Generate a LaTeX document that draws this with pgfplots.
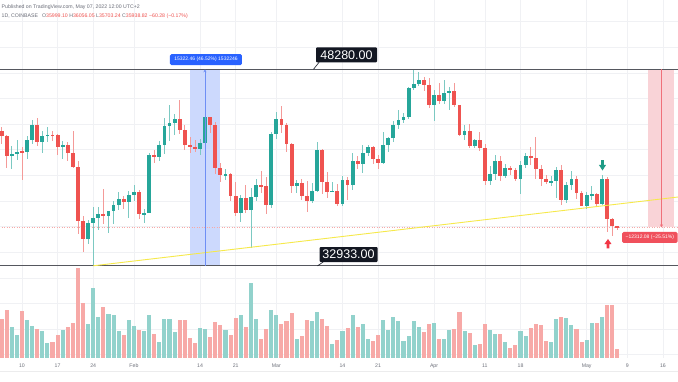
\documentclass[border=0pt]{standalone}
\usepackage{pgfplots}
\pgfplotsset{compat=1.18}
\usepackage{pgfplotstable}
\usepackage{fontspec}
\setmainfont{Liberation Sans}
\usetikzlibrary{arrows.meta}

\definecolor{up}{HTML}{26A69A}
\definecolor{dn}{HTML}{EF5350}
\definecolor{upw}{HTML}{7CC9C2}
\definecolor{dnw}{HTML}{F49A98}
\definecolor{upv}{HTML}{92D2CC}
\definecolor{dnv}{HTML}{F7A9A7}
\definecolor{gridc}{HTML}{F0F1F4}
\definecolor{lvl}{HTML}{55575E}
\definecolor{lblk}{HTML}{131722}
\definecolor{tvblue}{HTML}{2962FF}
\definecolor{bluebox}{HTML}{CCD9FD}
\definecolor{bluel}{HTML}{6E8FF5}
\definecolor{pinkbox}{HTML}{F9D3D7}
\definecolor{pinkl}{HTML}{F0707A}
\definecolor{tvred}{HTML}{F0505C}
\definecolor{trend}{HTML}{F6E94A}
\definecolor{axisgray}{HTML}{6F727C}
\definecolor{hdr}{HTML}{6A6D78}
\definecolor{arrowg}{HTML}{1E9C86}
\definecolor{arrowr}{HTML}{F23645}

\newcommand{\sm}{\fontsize{5.2}{6}\selectfont}

% d: day index (0 = 10 Jan 2022); O H L C in USD; V volume (BTC)
\pgfplotstableread{
d O H L C V
-4 43425 43750 42430 43097 17685
-3 43097 43145 40610 41547 21735
-2 41547 42300 40500 41672 13950
-1 41672 42790 41230 41849 10485
0 41849 42250 39650 41831 21150
1 41831 43100 41270 42740 16965
2 42740 44350 42450 43921 14400
3 43921 44450 42320 42592 13185
4 42592 43450 41730 43099 12285
5 43099 43800 42590 43178 6885
6 43178 43480 42700 43113 7065
7 43113 43190 41550 42250 10485
8 42250 42690 41260 42375 12465
9 42375 42580 41150 41744 13950
10 41744 43500 40570 40680 15750
11 40680 41100 35440 36457 40500
12 36457 36836 34008 35030 24750
13 35030 36500 34600 36276 15300
14 36276 37550 32933 36654 31500
15 36654 37550 35700 36954 18450
16 36954 38920 36234 36822 22950
17 36822 37230 35510 37200 19935
18 37200 38000 36170 37716 19350
19 37716 38720 37300 38166 12150
20 38166 38360 37360 37917 10215
21 37917 38740 36630 38483 16965
22 38483 39250 38000 38734 14400
23 38734 38850 36600 36944 12465
24 36944 37380 36250 37079 12285
25 37079 41760 37050 41560 19215
26 41560 41950 40980 41400 10800
27 41400 42670 41100 42384 7200
28 42384 44500 41660 43837 17415
29 43837 45500 42660 44087 17550
30 44087 44800 43150 44377 11700
31 44377 45850 43200 43560 17235
32 43560 43930 42000 42400 16965
33 42400 43000 41750 42200 8865
34 42200 42750 41860 42070 6750
35 42070 42850 41570 42560 13500
36 42560 44750 42450 44563 13050
37 44563 44580 43320 43900 9450
38 43900 44200 40100 40548 16200
39 40548 40960 39450 40000 14850
40 40000 40460 39650 40110 12600
41 40110 40160 38000 38350 10485
42 38350 39500 36800 37040 18000
43 37040 38440 36350 38260 19350
44 38260 39280 37050 37270 13950
45 37270 39000 34330 38340 33885
46 38340 39700 38010 39230 17685
47 39230 40300 38600 39140 8415
48 39140 39880 37000 37700 13185
49 37700 43400 37450 43190 21465
50 43190 44950 42850 44420 19215
51 44420 45400 43340 43910 15435
52 43910 44100 41830 42460 16785
53 42460 42520 38650 39150 20250
54 39150 39640 38600 39400 8550
55 39400 39690 38090 38420 9900
56 38420 39550 37160 37990 16965
57 37990 39400 37870 38740 16515
58 38740 42600 38660 41980 20700
59 41980 42050 38550 39440 17685
60 39440 40250 38230 38730 14265
61 38730 39480 38670 38810 6435
62 38810 39310 37590 37790 8100
63 37790 39930 37580 39670 12285
64 39670 39870 38110 39280 13500
65 39280 41720 38830 41110 19350
66 41110 41470 40500 40920 14085
67 40920 42340 40190 41770 15165
68 41770 42400 41520 42200 8415
69 42200 42300 40900 41260 7785
70 41260 41560 40480 41000 10485
71 41000 43360 40880 42370 17100
72 42370 43000 41850 42890 12600
73 42890 44230 42570 43960 18585
74 43960 45100 43600 44330 16650
75 44330 44830 44100 44520 7650
76 44520 46930 44430 46820 10035
77 46820 48240 46660 47130 16515
78 47130 48100 46950 47440 14085
79 47440 47700 46560 47070 11700
80 47070 47600 45220 45530 15435
81 45530 46700 44250 46290 15885
82 46290 47200 45600 45830 8415
83 45830 47450 45550 46410 8685
84 46410 46900 45130 46620 12465
85 46620 47200 45360 45510 13185
86 45510 45510 43100 43180 20700
87 43180 43900 42750 43450 12150
88 43450 43970 42120 42280 11250
89 42280 42800 42130 42760 5985
90 42760 43420 41900 42160 6435
91 42160 42420 39210 39530 15435
92 39530 40700 39250 40080 12600
93 40080 41560 39600 41150 10935
94 41150 41500 39560 39940 10665
95 39940 40880 39770 40550 7200
96 40550 40710 40020 40400 4500
97 40400 40600 39570 39700 5985
98 39700 41130 38540 40800 12150
99 40800 41760 40570 41500 10035
100 41500 42200 40820 41370 13500
101 41370 42980 39750 40480 15435
102 40480 40800 39180 39710 14985
103 39710 39990 39290 39470 7515
104 39470 39950 39190 39520 7065
105 39520 40620 38200 40430 17550
106 40430 40800 37700 38110 18585
107 38110 39470 37870 39240 17865
108 39240 40370 38880 39740 14850
109 39740 39930 38180 38600 12915
110 38600 38790 37580 37630 7335
111 37630 38690 37400 38470 8100
112 38470 39180 38050 38520 15615
113 38520 38650 37510 37730 15615
114 37730 40000 37700 39690 18315
115 39690 39850 35550 36550 23715
116 36550 36660 35260 36020 23850
117 35999 36056 35703 35939 4050
}\btc

% volume is drawn in the price scale: base 25733, 0.17356 USD of scale per BTC
\def\vbase{25733}
\def\vk{0.17356}

\begin{document}
\begin{tikzpicture}
\useasboundingbox (0pt,-23pt) rectangle (678pt,358pt);
\fill[white] (0pt,-23pt) rectangle (678pt,358pt);
\draw[gridc!70!gray!40, line width=0.8pt] (0pt,-13.5pt) -- (678pt,-13.5pt);

\begin{axis}[
  at={(0pt,358pt)}, anchor=north west,
  width=678pt, height=358pt, scale only axis,
  xmin=-4.3248, xmax=128.956, ymin=25733, ymax=53692,
  axis line style={draw=none},
  major tick length=0pt,
  xtick={0,7,14,22,35,42,50,63,70,81,91,98,111,119,126},
  xticklabels={10,17,24,Feb,14,21,Mar,14,21,Apr,11,18,May,9,16},
  xticklabel style={font=\sm, text=axisgray, anchor=center, yshift=-8pt},
  ytick={26000,28000,...,52000},
  yticklabels={},
  grid=major,
  major grid style={draw=gridc, line width=0.5pt},
  clip=true,
]
% date range boxes
\addplot[fill=bluebox, draw=none, forget plot] coordinates {(33.03,48280) (38.92,48280) (38.92,32933) (33.03,32933)} -- cycle;
\addplot[fill=pinkbox, draw=none, forget plot] coordinates {(123.06,48280) (128.17,48280) (128.17,35939) (123.06,35939)} -- cycle;
% last price line
\addplot[dnv, dotted, line width=0.5pt, forget plot] coordinates {(-5,35939) (130,35939)};

% volume bars
\addplot[forget plot, draw=none, mark=none,
  restrict expr to domain={\thisrow{C}-\thisrow{O}}{0:1e9},
  error bars/.cd, y dir=both, y explicit, error mark=none,
  error bar style={draw=upv, line width=4.1pt}]
  table[x=d, y expr={\vbase+\thisrow{V}*\vk/2}, y error expr={\thisrow{V}*\vk/2}] {\btc};
\addplot[forget plot, draw=none, mark=none,
  restrict expr to domain={\thisrow{O}-\thisrow{C}}{0.001:1e9},
  error bars/.cd, y dir=both, y explicit, error mark=none,
  error bar style={draw=dnv, line width=4.1pt}]
  table[x=d, y expr={\vbase+\thisrow{V}*\vk/2}, y error expr={\thisrow{V}*\vk/2}] {\btc};

% wicks
\addplot[forget plot, draw=none, mark=none,
  restrict expr to domain={\thisrow{C}-\thisrow{O}}{0:1e9},
  error bars/.cd, y dir=both, y explicit, error mark=none,
  error bar style={draw=upw, line width=0.7pt}]
  table[x=d, y expr={(\thisrow{H}+\thisrow{L})/2}, y error expr={(\thisrow{H}-\thisrow{L})/2}] {\btc};
\addplot[forget plot, draw=none, mark=none,
  restrict expr to domain={\thisrow{O}-\thisrow{C}}{0.001:1e9},
  error bars/.cd, y dir=both, y explicit, error mark=none,
  error bar style={draw=dnw, line width=0.7pt}]
  table[x=d, y expr={(\thisrow{H}+\thisrow{L})/2}, y error expr={(\thisrow{H}-\thisrow{L})/2}] {\btc};
% bodies
\addplot[forget plot, draw=none, mark=none,
  restrict expr to domain={\thisrow{C}-\thisrow{O}}{0:1e9},
  error bars/.cd, y dir=both, y explicit, error mark=none,
  error bar style={draw=up, line width=3.8pt}]
  table[x=d, y expr={(\thisrow{O}+\thisrow{C})/2}, y error expr={max(abs(\thisrow{C}-\thisrow{O})/2,40)}] {\btc};
\addplot[forget plot, draw=none, mark=none,
  restrict expr to domain={\thisrow{O}-\thisrow{C}}{0.001:1e9},
  error bars/.cd, y dir=both, y explicit, error mark=none,
  error bar style={draw=dn, line width=3.8pt}]
  table[x=d, y expr={(\thisrow{O}+\thisrow{C})/2}, y error expr={max(abs(\thisrow{C}-\thisrow{O})/2,40)}] {\btc};

% horizontal levels
\addplot[lvl, line width=1.1pt, forget plot] coordinates {(-5,48280) (130,48280)};
\addplot[lvl, line width=1.1pt, forget plot] coordinates {(-5,32933) (130,32933)};
% trend line
\addplot[trend, line width=0.9pt, forget plot] coordinates {(14,32933) (128.96,38307)};
% range measuring lines
\addplot[bluel, line width=0.6pt, -{Stealth[length=3pt,width=3pt]}, forget plot] coordinates {(35.97,32933) (35.97,48280)};
\addplot[pinkl, line width=0.6pt, -{Stealth[length=3pt,width=3pt]}, forget plot] coordinates {(125.71,48280) (125.71,35939)};
% signal arrows
\addplot[fill=arrowg, draw=none, forget plot] coordinates {(113.835,41196) (114.385,41196) (114.385,40806) (114.798,40806) (114.11,40376) (113.422,40806) (113.835,40806)} -- cycle;
\addplot[fill=arrowr, draw=none, forget plot] coordinates {(115.19,35027) (115.878,34636) (115.465,34636) (115.465,34285) (114.915,34285) (114.915,34636) (114.502,34636)} -- cycle;

% labels
\draw[lblk, line width=0.6pt] (axis cs:58.4,48830) -- (axis cs:57.3,48280);
\node[fill=lblk, text=white, font=\fontsize{12.5}{14}\selectfont, minimum width=61pt, minimum height=15pt, inner sep=0pt, rounded corners=1pt] at (axis cs:63.79,49397) {48280.00};
\draw[lblk, line width=0.6pt] (axis cs:59.2,33230) -- (axis cs:58.1,32933);
\node[fill=lblk, text=white, font=\fontsize{12.5}{14}\selectfont, minimum width=58pt, minimum height=15pt, inner sep=0pt, rounded corners=1pt] at (axis cs:64.19,33816) {32933.00};
\node[fill=tvblue, text=white, font=\fontsize{5}{6}\selectfont, minimum width=72pt, minimum height=11pt, inner sep=0pt, rounded corners=1.5pt] at (axis cs:36.17,49030) {15322.46 (46.52\%) 1532246};
\node[fill=tvred, text=white, font=\fontsize{5}{6}\selectfont, anchor=west, minimum height=11pt, inner xsep=3.5pt, inner ysep=0pt, rounded corners=1.5pt] at (axis cs:117.95,35144) {−12312.08 (−25.51\%)};
\end{axis}

% header
\node[anchor=west, inner sep=0pt, font=\sm, text=hdr] at (1.5pt,350.8pt) {Published on TradingView.com, May 07, 2022 12:00 UTC+2};
\node[anchor=west, inner sep=0pt, font=\sm] at (1.5pt,341.6pt) {\textcolor{hdr}{1D, COINBASE}\hspace{4pt}\textcolor{hdr}{O}\textcolor{dn}{35999.10} \textcolor{hdr}{H}\textcolor{dn}{36056.05} \textcolor{hdr}{L}\textcolor{dn}{35703.24} \textcolor{hdr}{C}\textcolor{dn}{35938.82} \textcolor{dn}{−60.28 (−0.17\%)}};
\end{tikzpicture}
\end{document}
